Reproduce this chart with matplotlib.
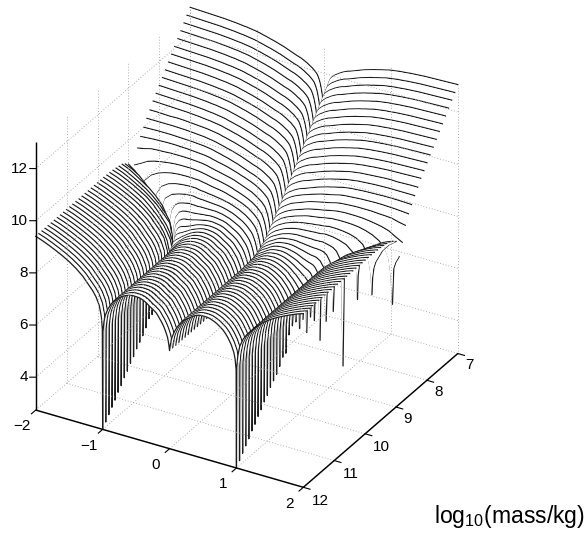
import numpy as np
import matplotlib
matplotlib.use("Agg")
import matplotlib.pyplot as plt
from mpl_toolkits.mplot3d import proj3d
from mpl_toolkits.mplot3d.art3d import Poly3DCollection

plt.rcParams['font.family'] = ['Liberation Sans', 'DejaVu Sans']
plt.rcParams['mathtext.default'] = 'regular'

# ---------- chart values ----------
x_ticks = [-2, -1, 0, 1, 2]
y_ticks = [7, 8, 9, 10, 11, 12]
z_ticks = [4, 6, 8, 10, 12]
x_tick_labels = ['\u22122', '\u22121', '0', '1', '2']
y_tick_labels = ['7', '8', '9', '10', '11', '12']
z_tick_labels = ['4', '6', '8', '10', '12']
x_limits = (-2, 2)
y_limits = (12, 7)
z_limits = (2.74, 13.0)
axis_label = r'log$_{10}$(mass/kg)'

log_mass = [7.0, 7.1, 7.2, 7.3, 7.4, 7.5, 7.6, 7.7, 7.8, 7.9,
            8.0, 8.1, 8.2, 8.3, 8.4, 8.5, 8.6, 8.7, 8.8, 8.9,
            9.0, 9.1, 9.2, 9.3, 9.4, 9.5, 9.6, 9.7, 9.8, 9.9,
            10.0, 10.1, 10.2, 10.3, 10.4, 10.5, 10.6, 10.7, 10.8, 10.9,
            11.0, 11.1, 11.2, 11.3, 11.4, 11.5, 11.6, 11.7, 11.8, 11.9, 12.0]

# |x| sample positions
inner_x = [.01, .02, .03, .045, .06, .08, .1, .125, .15, .175, .2, .25, .3, .35, .4, .45, .5, .55, .6, .65, .7, .75, .8, .84,
           .87, .92, .96, .98, .995, 1.0]
outer_x = [1.005, 1.02, 1.05, 1.1, 1.15, 1.2, 1.3, 1.4, 1.5, 1.6, 1.7, 1.8, 1.9, 2.0]

# height at x = 0, one value per line
center_z = [10.2, 10.0, 9.81, 9.61, 9.41, 9.21, 9.02, 8.82, 8.62, 8.43, 8.23, 8.03, 7.84, 7.64, 7.44, 7.24,
            7.15, 7.0, 6.88, 6.8, 6.72, 6.66, 6.62, 6.58, 6.55, 6.53, 6.52, 6.52, 6.51, 6.51,
            6.5, 6.5, 6.5, 6.5, 6.5, 6.5, 6.5, 6.5, 6.5, 6.5, 6.5, 6.5, 6.5, 6.5, 6.5, 6.5, 6.5, 6.5, 6.5, 6.5, 6.5]

# back lines (first 16) share one shape, lowered by a per-line step
sheet_inner = [10.6, 10.95, 11.2, 11.42, 11.6, 11.76, 11.88, 11.96, 12.02, 12.08, 12.12, 12.21, 12.28, 12.34, 12.38, 12.43,
               12.48, 12.53, 12.58, 12.62, 12.66, 12.7, 12.73, 12.76, 12.78, 12.81, 12.84, 12.85, 12.86, 12.86]
sheet_outer = [12.86, 12.87, 12.88, 12.9, 12.92, 12.93, 12.96, 12.98, 13.0, 13.01, 13.02, 13.03, 13.04, 13.05]
sheet_drop = [0, .2, .39, .59, .79, .99, 1.18, 1.38, 1.58, 1.77, 1.97, 2.17, 2.36, 2.56, 2.76, 2.96]

# front lines share one arch and one lobe
arch_inner = [6.7, 6.86, 6.98, 7.1, 7.2, 7.32, 7.42, 7.53, 7.62, 7.72, 7.8, 7.9, 7.98, 8.08, 8.15, 8.19,
              8.2, 8.2, 8.18, 8.13, 8.07, 7.98, 7.88, 7.76, 7.65, 7.42, 7.15, 6.9, 6.5]
lobe_outer = [6.6, 7.05, 7.45, 7.75, 7.95, 8.1, 8.4, 8.62, 8.8, 8.95, 9.08, 9.2, 9.31, 9.4]
# bottom of the spike at |x| = 1 for lines 33..50
spike_z = [6.1, 5.5, 5.45, 5.2, 5.0, 4.85, 4.7, 4.5, 4.35, 4.15, 4.0, 3.8, 3.65, 3.45, 3.28, 3.1, 2.92, 2.74]

# transition lines, 0 < |x| <= 1
inner_16 = [7.52, 7.85, 8.09, 8.3, 8.47, 8.62, 8.75, 8.83, 8.89, 8.95, 9.0, 9.09, 9.16, 9.22, 9.27, 9.32, 9.36, 9.41, 9.45, 9.49, 9.53, 9.56, 9.59, 9.61, 9.63, 9.66, 9.69, 9.7, 9.71, 9.71]
inner_17 = [7.36, 7.68, 7.9, 8.12, 8.29, 8.44, 8.56, 8.64, 8.71, 8.76, 8.81, 8.9, 8.98, 9.03, 9.08, 9.13, 9.18, 9.23, 9.27, 9.3, 9.33, 9.36, 9.39, 9.41, 9.43, 9.46, 9.49, 9.5, 9.51, 9.51]
inner_18 = [7.21, 7.53, 7.74, 7.95, 8.11, 8.26, 8.38, 8.46, 8.53, 8.59, 8.64, 8.73, 8.8, 8.86, 8.91, 8.96, 9.0, 9.05, 9.09, 9.12, 9.15, 9.18, 9.2, 9.22, 9.24, 9.27, 9.29, 9.3, 9.31, 9.31]
inner_19 = [7.09, 7.38, 7.58, 7.78, 7.95, 8.1, 8.22, 8.3, 8.37, 8.43, 8.48, 8.58, 8.65, 8.71, 8.76, 8.81, 8.85, 8.89, 8.93, 8.96, 8.98, 9.0, 9.02, 9.04, 9.06, 9.08, 9.1, 9.11, 9.12, 9.12]
inner_20 = [6.98, 7.26, 7.44, 7.63, 7.79, 7.93, 8.05, 8.14, 8.21, 8.28, 8.33, 8.43, 8.5, 8.57, 8.62, 8.67, 8.71, 8.74, 8.77, 8.79, 8.81, 8.83, 8.84, 8.86, 8.87, 8.88, 8.9, 8.91, 8.92, 8.92]
inner_21 = [6.9, 7.16, 7.32, 7.5, 7.65, 7.79, 7.91, 8.0, 8.07, 8.14, 8.2, 8.3, 8.37, 8.44, 8.5, 8.54, 8.58, 8.61, 8.63, 8.64, 8.65, 8.66, 8.67, 8.68, 8.68, 8.69, 8.71, 8.72, 8.72, 8.72]
inner_22 = [6.84, 7.08, 7.23, 7.4, 7.54, 7.68, 7.79, 7.88, 7.96, 8.03, 8.1, 8.2, 8.27, 8.34, 8.4, 8.44, 8.48, 8.5, 8.52, 8.52, 8.52, 8.52, 8.52, 8.52, 8.51, 8.52, 8.52, 8.53, 8.53, 8.53]
inner_23 = [6.79, 7.02, 7.15, 7.31, 7.44, 7.58, 7.69, 7.78, 7.86, 7.94, 8.01, 8.11, 8.18, 8.26, 8.33, 8.37, 8.39, 8.41, 8.42, 8.42, 8.4, 8.39, 8.37, 8.36, 8.35, 8.34, 8.34, 8.33, 8.33, 8.33]
inner_24 = [6.76, 6.97, 7.1, 7.25, 7.37, 7.5, 7.61, 7.71, 7.79, 7.87, 7.94, 8.04, 8.12, 8.2, 8.27, 8.31, 8.33, 8.35, 8.35, 8.34, 8.31, 8.28, 8.25, 8.22, 8.2, 8.17, 8.16, 8.15, 8.14, 8.13]
inner_25 = [6.74, 6.94, 7.06, 7.2, 7.31, 7.44, 7.55, 7.65, 7.73, 7.82, 7.9, 8.0, 8.07, 8.16, 8.23, 8.27, 8.29, 8.3, 8.29, 8.27, 8.24, 8.2, 8.14, 8.09, 8.06, 8.01, 7.98, 7.96, 7.94, 7.93]
inner_26 = [6.73, 6.92, 7.03, 7.17, 7.28, 7.4, 7.51, 7.61, 7.7, 7.79, 7.86, 7.96, 8.04, 8.13, 8.2, 8.24, 8.26, 8.27, 8.26, 8.23, 8.18, 8.13, 8.07, 8.0, 7.96, 7.88, 7.83, 7.79, 7.76, 7.74]
inner_27 = [6.72, 6.9, 7.01, 7.14, 7.25, 7.37, 7.48, 7.58, 7.67, 7.76, 7.84, 7.94, 8.02, 8.11, 8.18, 8.22, 8.24, 8.25, 8.23, 8.2, 8.15, 8.08, 8.0, 7.92, 7.87, 7.76, 7.68, 7.62, 7.58, 7.54]
inner_28 = [6.71, 6.88, 7.0, 7.12, 7.23, 7.35, 7.46, 7.56, 7.65, 7.75, 7.83, 7.93, 8.0, 8.1, 8.17, 8.21, 8.22, 8.23, 8.21, 8.18, 8.12, 8.05, 7.96, 7.86, 7.8, 7.66, 7.54, 7.47, 7.4, 7.34]
inner_29 = [6.71, 6.87, 6.99, 7.11, 7.22, 7.34, 7.45, 7.55, 7.64, 7.74, 7.82, 7.92, 8.0, 8.09, 8.16, 8.2, 8.22, 8.22, 8.2, 8.16, 8.1, 8.03, 7.94, 7.82, 7.75, 7.59, 7.44, 7.34, 7.24, 7.15]
inner_30 = [6.7, 6.87, 6.99, 7.11, 7.21, 7.33, 7.44, 7.54, 7.63, 7.73, 7.81, 7.91, 7.99, 8.09, 8.16, 8.2, 8.21, 8.21, 8.19, 8.15, 8.09, 8.01, 7.92, 7.8, 7.72, 7.54, 7.35, 7.22, 7.08, 6.95]
inner_31 = [6.7, 6.86, 6.98, 7.1, 7.21, 7.33, 7.43, 7.53, 7.63, 7.72, 7.8, 7.9, 7.99, 8.08, 8.15, 8.19, 8.21, 8.2, 8.19, 8.14, 8.08, 8.0, 7.9, 7.78, 7.69, 7.5, 7.29, 7.13, 6.94, 6.75]
inner_32 = [6.7, 6.86, 6.98, 7.1, 7.2, 7.32, 7.43, 7.53, 7.62, 7.72, 7.8, 7.9, 7.98, 8.08, 8.15, 8.19, 8.2, 8.2, 8.18, 8.14, 8.08, 7.99, 7.89, 7.77, 7.68, 7.47, 7.25, 7.06, 6.84, 6.56]

# transition lines, |x| > 1, on outer_x
outer_13 = [10.3, 10.31, 10.32, 10.34, 10.36, 10.37, 10.39, 10.41, 10.43, 10.44, 10.43, 10.44, 10.45, 10.45]
outer_14 = [10.1, 10.11, 10.12, 10.14, 10.16, 10.17, 10.19, 10.21, 10.22, 10.23, 10.23, 10.23, 10.23, 10.23]
outer_15 = [9.9, 9.91, 9.92, 9.94, 9.95, 9.96, 9.98, 9.99, 10.0, 10.01, 10.01, 10.01, 10.0, 9.99]
outer_16 = [9.71, 9.72, 9.73, 9.74, 9.75, 9.76, 9.78, 9.79, 9.8, 9.8, 9.79, 9.78, 9.76, 9.74]
outer_17 = [9.51, 9.52, 9.53, 9.54, 9.55, 9.56, 9.57, 9.57, 9.57, 9.55, 9.54, 9.52, 9.45, 9.4]
outer_18 = [9.31, 9.32, 9.33, 9.34, 9.35, 9.35, 9.35, 9.34, 9.31, 9.27, 9.22, 9.14, 8.99, 8.85]

# lines whose notch wanders out between |x| = 1 and 2: own sample positions
dip_x_19 = [1.05, 1.1, 1.2, 1.3, 1.4, 1.5, 1.6, 1.7, 1.8, 1.85, 1.88, 1.9, 1.92, 1.95, 2.0]
dip_z_19 = [9.12, 9.13, 9.13, 9.12, 9.09, 9.03, 8.94, 8.79, 8.51, 8.2, 7.6, 6.5, 7.9, 8.15, 8.4]
dip_x_20 = [1.05, 1.1, 1.2, 1.3, 1.4, 1.5, 1.57, 1.61, 1.63, 1.64, 1.65, 1.67, 1.7, 1.8, 1.9, 2.0]
dip_z_20 = [8.92, 8.92, 8.9, 8.86, 8.78, 8.61, 8.3, 7.85, 7.5, 6.78, 7.45, 7.85, 8.1, 8.6, 8.9, 9.09]
dip_x_21 = [1.05, 1.1, 1.15, 1.2, 1.3, 1.4, 1.44, 1.46, 1.47, 1.48, 1.5, 1.55, 1.6, 1.7, 1.8, 1.9, 2.0]
dip_z_21 = [8.71, 8.7, 8.67, 8.64, 8.55, 8.33, 8.0, 7.6, 6.57, 7.5, 7.95, 8.15, 8.35, 8.67, 8.92, 9.08, 9.2]
dip_x_22 = [1.05, 1.1, 1.15, 1.2, 1.25, 1.28, 1.3, 1.32, 1.35, 1.4, 1.5, 1.6, 1.7, 1.8, 1.9, 2.0]
dip_z_22 = [8.5, 8.47, 8.43, 8.33, 8.1, 7.7, 4.0, 7.6, 7.9, 8.15, 8.45, 8.68, 8.85, 9.02, 9.18, 9.29]
dip_x_23 = [1.05, 1.1, 1.15, 1.18, 1.2, 1.22, 1.25, 1.3, 1.4, 1.5, 1.6, 1.7, 1.8, 1.9, 2.0]
dip_z_23 = [8.3, 8.22, 8.0, 7.6, 6.12, 7.5, 7.8, 8.0, 8.3, 8.55, 8.75, 8.92, 9.07, 9.21, 9.32]
dip_x_24 = [1.02, 1.05, 1.1, 1.12, 1.14, 1.16, 1.2, 1.3, 1.4, 1.5, 1.6, 1.7, 1.8, 1.9, 2.0]
dip_z_24 = [8.1, 8.05, 7.85, 7.6, 5.8, 7.4, 7.85, 8.15, 8.42, 8.63, 8.82, 8.97, 9.12, 9.25, 9.35]
dip_x_25 = [1.02, 1.05, 1.08, 1.095, 1.11, 1.15, 1.2, 1.3, 1.4, 1.5, 1.6, 1.7, 1.8, 1.9, 2.0]
dip_z_25 = [7.88, 7.75, 7.4, 5.14, 7.3, 7.6, 7.85, 8.2, 8.5, 8.72, 8.88, 9.03, 9.16, 9.28, 9.37]
dip_x_26 = [1.02, 1.04, 1.056, 1.07, 1.1, 1.15, 1.2, 1.3, 1.4, 1.5, 1.6, 1.7, 1.8, 1.9, 2.0]
dip_z_26 = [7.65, 7.45, 5.97, 7.2, 7.5, 7.75, 7.97, 8.28, 8.53, 8.75, 8.91, 9.05, 9.18, 9.29, 9.38]
dip_x_27 = [1.02, 1.035, 1.045, 1.06, 1.1, 1.15, 1.2, 1.3, 1.4, 1.5, 1.6, 1.7, 1.8, 1.9, 2.0]
dip_z_27 = [7.4, 7.1, 6.2, 7.1, 7.55, 7.83, 8.03, 8.33, 8.57, 8.77, 8.92, 9.06, 9.19, 9.3, 9.39]

# lines with the notch just beyond |x| = 1; further out they follow lobe_outer from 1.1
near_x_28 = [1.01, 1.02, 1.035, 1.05]
near_z_28 = [7.3, 7.2, 5.7, 7.3]
near_x_29 = [1.01, 1.025, 1.04, 1.05]
near_z_29 = [7.0, 6.3, 7.1, 7.4]
near_x_30 = [1.01, 1.02, 1.03, 1.05]
near_z_30 = [6.75, 6.05, 6.95, 7.42]
near_x_31 = [1.01, 1.02, 1.05]
near_z_31 = [6.4, 7.0, 7.45]
near_x_32 = [1.005, 1.02, 1.05]
near_z_32 = [6.35, 7.02, 7.45]

inner_by_line = {16: inner_16, 17: inner_17, 18: inner_18, 19: inner_19, 20: inner_20, 21: inner_21,
                 22: inner_22, 23: inner_23, 24: inner_24, 25: inner_25, 26: inner_26, 27: inner_27,
                 28: inner_28, 29: inner_29, 30: inner_30, 31: inner_31, 32: inner_32}
outer_by_line = {13: outer_13, 14: outer_14, 15: outer_15, 16: outer_16, 17: outer_17, 18: outer_18}
dip_by_line = {19: (dip_x_19, dip_z_19), 20: (dip_x_20, dip_z_20), 21: (dip_x_21, dip_z_21),
               22: (dip_x_22, dip_z_22), 23: (dip_x_23, dip_z_23), 24: (dip_x_24, dip_z_24),
               25: (dip_x_25, dip_z_25), 26: (dip_x_26, dip_z_26), 27: (dip_x_27, dip_z_27)}
near_by_line = {28: (near_x_28, near_z_28), 29: (near_x_29, near_z_29), 30: (near_x_30, near_z_30),
                31: (near_x_31, near_z_31), 32: (near_x_32, near_z_32)}


def line_profile(k):
    if k <= 15:
        inner = [v - sheet_drop[k] for v in sheet_inner]
    elif k <= 32:
        inner = inner_by_line[k]
    else:
        inner = arch_inner + [spike_z[k - 33]]
    if k <= 12:
        ox, oz = outer_x, [v - sheet_drop[k] for v in sheet_outer]
    elif k <= 18:
        ox, oz = outer_x, outer_by_line[k]
    elif k <= 27:
        ox, oz = dip_by_line[k]
    elif k <= 32:
        nx, nz = near_by_line[k]
        ox = nx + outer_x[3:]
        oz = nz + lobe_outer[3:]
    else:
        ox, oz = outer_x, lobe_outer
    hx = np.array([0.0] + inner_x + list(ox))
    hz = np.array([center_z[k]] + list(inner) + list(oz))
    return np.concatenate([-hx[:0:-1], hx]), np.concatenate([hz[:0:-1], hz])


# ---------- figure ----------
fig = plt.figure(figsize=(5.88, 5.39), dpi=100)
W = 540.0
ax = fig.add_axes([-30.5 / 588, 13.7 / 539, W / 588, W / 539], projection='3d',
                  proj_type='ortho', computed_zorder=False)
ax.view_init(elev=30, azim=-60)
ax.set_box_aspect((1, 1, 1), zoom=309 / (W * 0.5948))
ax.set_xticks([])
ax.set_yticks([])
ax.set_zticks([])
ax.set_axis_off()
ax.patch.set_alpha(0)

lines = [line_profile(k) for k in range(len(log_mass))]
for k, (xs, zs) in enumerate(lines):
    y = log_mass[k]
    if k > 0:
        xb, zb = lines[k - 1]
        yb = log_mass[k - 1] + 0.02
        back = np.column_stack([xb, np.full(xb.size, yb), zb])
        front = np.column_stack([xs, np.full(xs.size, y), zs])[::-1]
        strip = Poly3DCollection([np.vstack([back, front])], facecolors='white', edgecolors='none',
                                 zorder=2 * k + 1)
        ax.add_collection3d(strip, autolim=False)
    ax.plot(xs, np.full(xs.size, y), zs, color='#1c1c1c', lw=0.9, zorder=2 * k + 2,
            solid_joinstyle='round', clip_on=False)

# dotted grid, on the floor and the two back walls
grid = dict(color='#a4a4a4', lw=0.65, ls=(0, (1, 2.2)), zorder=300, clip_on=False)
zlo, zhi = z_limits
for t in x_ticks:
    ax.plot([t, t], [12, 7], [zlo, zlo], **grid)
    ax.plot([t, t], [7, 7], [zlo, zhi], **grid)
for t in y_ticks:
    ax.plot([-2, 2], [t, t], [zlo, zlo], **grid)
    ax.plot([-2, -2], [t, t], [zlo, zhi], **grid)
for t in z_ticks:
    ax.plot([-2, 2], [7, 7], [t, t], **grid)
    ax.plot([-2, -2], [12, 7], [t, t], **grid)

# axis lines and tick marks
axl = dict(color='black', lw=1.05, zorder=400, clip_on=False, solid_capstyle='butt')
ax.plot([-2, 2], [12, 12], [zlo, zlo], **axl)
ax.plot([2, 2], [12, 7], [zlo, zlo], **axl)
ax.plot([-2, -2], [12, 12], [zlo, zhi], **axl)
tk = dict(color='black', lw=0.8, zorder=400, clip_on=False)
for t in x_ticks:
    ax.plot([t, t], [12, 12.14], [zlo, zlo], **tk)
for t in y_ticks:
    ax.plot([2, 2.1], [t, t], [zlo, zlo], **tk)
for t in z_ticks:
    ax.plot([-2, -2.068], [12, 12.048], [t, t], **tk)

ax.set_xlim(*x_limits, view_margin=0)
ax.set_ylim(*y_limits, view_margin=0)
ax.set_zlim(*z_limits, view_margin=0)


def label_at(x, y, z, s, **kw):
    # project a 3D anchor into the axes' 2D data space, then place ordinary text there
    u, v, _ = proj3d.proj_transform(x, y, z, ax.get_proj())
    ax.text2D(u, v, s, transform=ax.transData, fontsize=11, va='center', zorder=500, **kw)


for t, s in zip(x_ticks, x_tick_labels):
    label_at(t + 0.06, 12.57, zlo, s, ha='center')
for t, s in zip(y_ticks, y_tick_labels):
    off = 0.284 if len(s) == 1 else 0.36
    label_at(2 + off, t + 0.24, zlo, s, ha='center')
for t, s in zip(z_ticks, z_tick_labels):
    label_at(-2.09, 12.064, t, s, ha='right')

fig.text(585 / 588, 1 - 523 / 539, axis_label, fontsize=16.6, ha='right', va='baseline')

fig.savefig('out.png', dpi=100)
